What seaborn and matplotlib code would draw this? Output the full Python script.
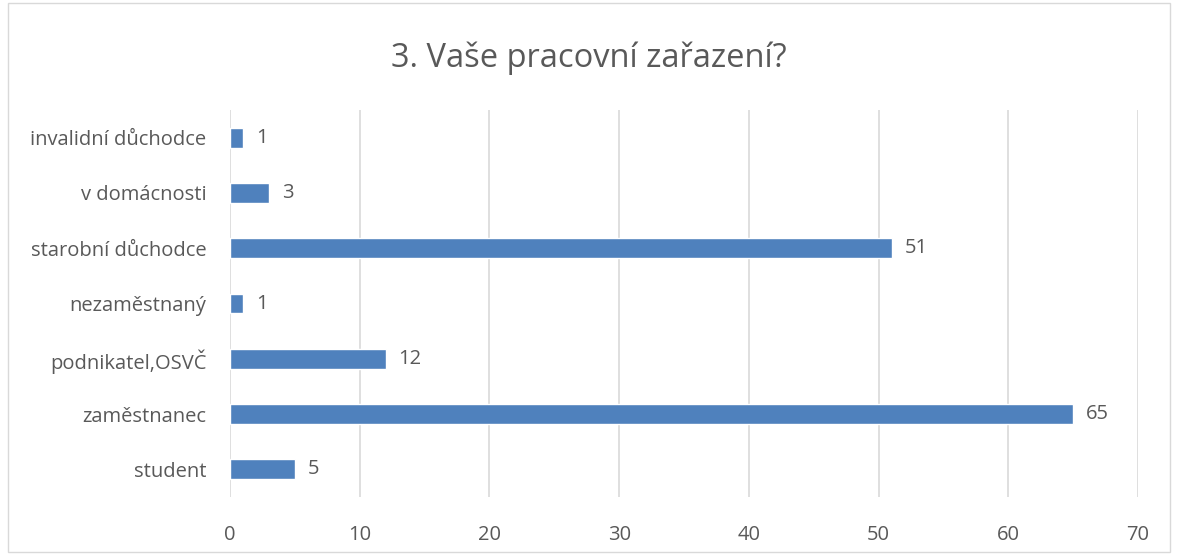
import matplotlib
matplotlib.use('Agg')
import matplotlib.pyplot as plt
import seaborn as sns
import pandas as pd
from matplotlib.patches import Rectangle

# --- DATA ---
categories = ['invalidní důchodce', 'v domácnosti', 'starobní důchodce', 'nezaměstnaný',
              'podnikatel,OSVČ', 'zaměstnanec', 'student']
counts = [1, 3, 51, 1, 12, 65, 5]
x_ticks = [0, 10, 20, 30, 40, 50, 60, 70]
title = '3. Vaše pracovní zařazení?'

BAR_COLOR = '#4F81BD'
TEXT_COLOR = '#595959'
GRID_COLOR = '#D9D9D9'

sns.set_theme(style='white')
plt.rcParams['font.family'] = ['Open Sans', 'DejaVu Sans']

df = pd.DataFrame({'kategorie': categories, 'pocet': counts})

fig = plt.figure(figsize=(11.77, 5.55), dpi=100)
ax = fig.add_axes([0.1954, 0.1045, 0.7715, 0.6973])

sns.barplot(data=df, x='pocet', y='kategorie', order=categories, color=BAR_COLOR,
            width=0.36, saturation=1, ax=ax)

for i, v in enumerate(counts):
    ax.text(v + 1.0, i, str(v), va='center', ha='left', fontsize=14.5, color=TEXT_COLOR)

ax.set_xlim(0, 70)
ax.set_xticks(x_ticks)
ax.grid(axis='x', color=GRID_COLOR, linewidth=1.2)
ax.set_axisbelow(True)
for s in ax.spines.values():
    s.set_visible(False)
ax.tick_params(axis='both', length=0, labelsize=14.5, labelcolor=TEXT_COLOR)
ax.tick_params(axis='x', pad=20)
ax.tick_params(axis='y', pad=17)
ax.set_xlabel('')
ax.set_ylabel('')

fig.text(0.5, 0.895, title, ha='center', va='center', fontsize=23.5, color=TEXT_COLOR)

# outer chart border
fig.patches.append(Rectangle((0.007, 0.005), 0.987, 0.99, transform=fig.transFigure,
                             fill=False, edgecolor='#D9D9D9', linewidth=1))

plt.savefig('out.png', dpi=100)
